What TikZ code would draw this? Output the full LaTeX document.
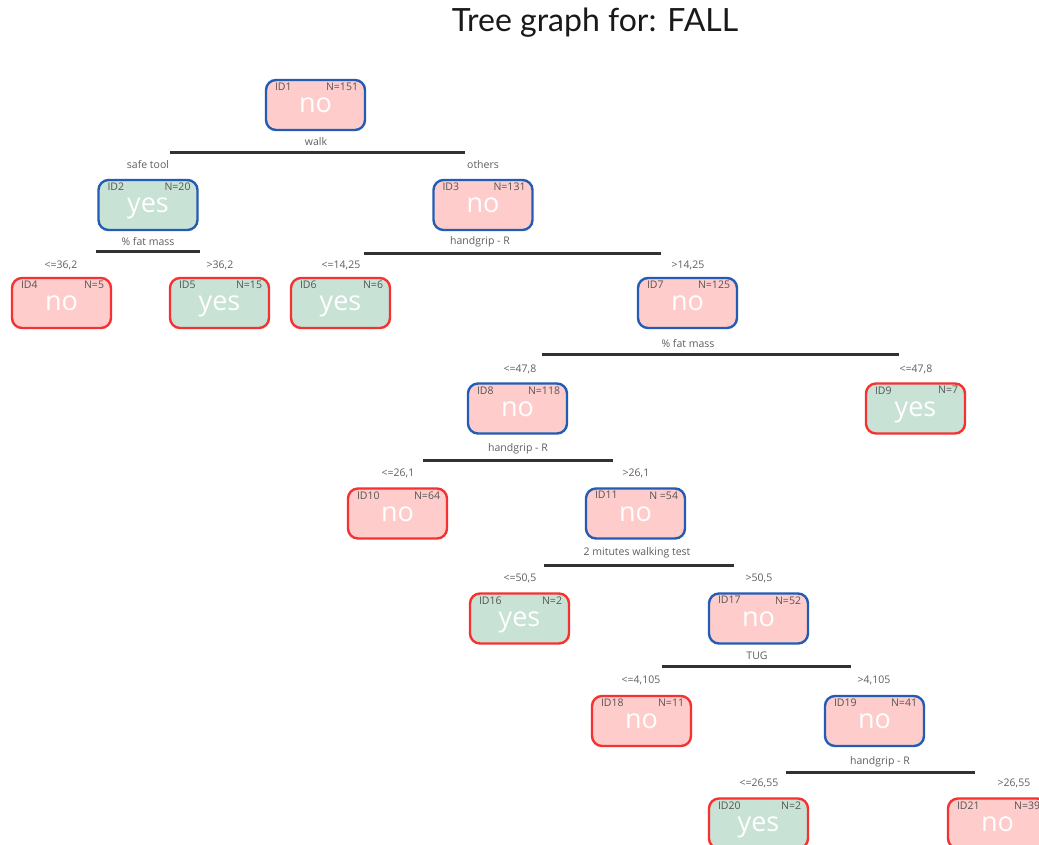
\documentclass[tikz,border=0pt]{standalone}
\usepackage{fontspec}
\setmainfont{Open Sans}
\newfontfamily\titlefont{Lato}
\definecolor{pinkfill}{RGB}{255,204,204}
\definecolor{greenfill}{RGB}{200,226,213}
\definecolor{blueedge}{RGB}{35,92,180}
\definecolor{rededge}{RGB}{245,50,50}
\definecolor{splitline}{RGB}{50,50,50}
\definecolor{labtxt}{RGB}{95,95,95}
\definecolor{idgrey}{RGB}{85,85,85}
\tikzset{
  box/.style={rounded corners=10pt, line width=2.4pt, minimum width=99pt, minimum height=50pt, inner sep=0pt, text=white, text height=15pt, text depth=0pt, font=\fontsize{27}{29}\selectfont},
  nobox/.style={box, fill=pinkfill},
  yesbox/.style={box, fill=greenfill},
  inner/.style={draw=blueedge},
  leaf/.style={draw=rededge},
  idtxt/.style={inner sep=0pt, text=idgrey, font=\fontsize{10.5}{12}\selectfont},
  lab/.style={inner sep=0pt, text=labtxt, font=\fontsize{10.5}{12}\selectfont},
  split/.style={line width=3pt, draw=splitline}
}
\newcommand{\tnode}[7]{%
  \node[#7] (#1) at (#2,-#3) {#6};
  \node[idtxt, anchor=north west] (#1id) at ([xshift=10pt,yshift=-4pt]#1.north west) {#4};
  \node[idtxt, anchor=north east] (#1n) at ([xshift=-8pt,yshift=-4pt]#1.north east) {#5};
}
\newcommand{\tsplit}[4]{% name, x1, x2, y
  \coordinate (#1a) at (#2,-#4);
  \coordinate (#1b) at (#3,-#4);
  \draw[split] (#1a) -- (#1b);
}
\begin{document}
\begin{tikzpicture}[x=1pt,y=1pt]
\useasboundingbox (0,0) rectangle (1039,-845);
\clip (0,0) rectangle (1039,-845);
\fill[white] (0,0) rectangle (1039,-845);
\node[font=\titlefont\fontsize{32}{36}\selectfont, text=black!90] (title) at (595,-23) {Tree graph for: FALL};

% nodes
\tnode{n1}{315.5}{105}{ID1}{N=151}{no}{nobox,inner}
\tnode{n2}{148}{205}{ID2}{N=20}{yes}{yesbox,inner}
\tnode{n3}{483}{205}{ID3}{N=131}{no}{nobox,inner}
\tnode{n4}{61.5}{303}{ID4}{N=5}{no}{nobox,leaf}
\tnode{n5}{219.5}{303}{ID5}{N=15}{yes}{yesbox,leaf}
\tnode{n6}{340.5}{303}{ID6}{N=6}{yes}{yesbox,leaf}
\tnode{n7}{687.5}{303}{ID7}{N=125}{no}{nobox,inner}
\tnode{n8}{517.5}{408.5}{ID8}{N=118}{no}{nobox,inner}
\tnode{n9}{915.5}{408.5}{ID9}{N=7}{yes}{yesbox,leaf}
\tnode{n10}{397.5}{513.5}{ID10}{N=64}{no}{nobox,leaf}
\tnode{n11}{635.5}{513.5}{ID11}{N =54}{no}{nobox,inner}
\tnode{n16}{519.5}{618.5}{ID16}{N=2}{yes}{yesbox,leaf}
\tnode{n17}{758.5}{618.5}{ID17}{N=52}{no}{nobox,inner}
\tnode{n18}{641.5}{721}{ID18}{N=11}{no}{nobox,leaf}
\tnode{n19}{874.5}{721}{ID19}{N=41}{no}{nobox,inner}
\tnode{n20}{758.5}{823.5}{ID20}{N=2}{yes}{yesbox,leaf}
\tnode{n21}{997.5}{823.5}{ID21}{N=39}{no}{nobox,leaf}

% splits
\tsplit{s1}{170}{465}{153}
\node[lab] (l1) at (316,-142) {walk};
\node[lab] (b2) at (148,-165) {safe tool};
\node[lab] (b3) at (483,-165) {others};

\tsplit{s2}{96}{200}{252}
\node[lab] (l2) at (148,-241.5) {\% fat mass};
\node[lab] (b4) at (61,-265) {<=36,2};
\node[lab] (b5) at (220,-265) {>36,2};

\tsplit{s3}{364}{661}{254}
\node[lab] (l3) at (480,-242) {handgrip - R};
\node[lab] (b6) at (341,-265) {<=14,25};
\node[lab] (b7) at (688,-265) {>14,25};

\tsplit{s7}{542}{899}{354}
\node[lab] (l7) at (688,-344) {\% fat mass};
\node[lab] (b8) at (520,-369) {<=47,8};
\node[lab] (b9) at (916,-369) {<=47,8};

\tsplit{s8}{423}{613}{460}
\node[lab] (l8) at (518,-449) {handgrip - R};
\node[lab] (b10) at (398,-473) {<=26,1};
\node[lab] (b11) at (636,-473) {>26,1};

\tsplit{s11}{544}{734}{565}
\node[lab] (l11) at (637,-553) {2 mitutes walking test};
\node[lab] (b16) at (520,-578) {<=50,5};
\node[lab] (b17) at (759,-578) {>50,5};

\tsplit{s17}{662}{851}{666}
\node[lab] (l17) at (757,-656) {TUG};
\node[lab] (b18) at (641,-680) {<=4,105};
\node[lab] (b19) at (874,-680) {>4,105};

\tsplit{s19}{786}{975}{772}
\node[lab] (l19) at (880,-762) {handgrip - R};
\node[lab] (b20) at (759,-783) {<=26,55};
\node[lab] (b21) at (1014,-783) {>26,55};
\end{tikzpicture}
\end{document}
